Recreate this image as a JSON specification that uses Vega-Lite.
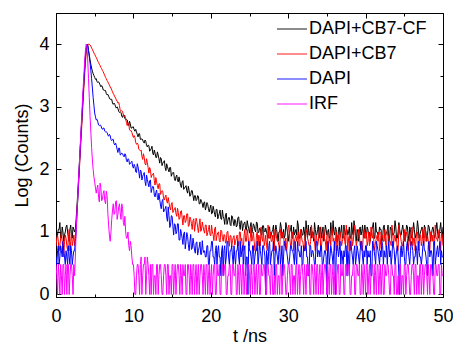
{
"$schema": "https://vega.github.io/schema/vega-lite/v6.json",
"width": 387,
"height": 284,
"autosize": {"type": "none"},
"padding": {"left": 56, "top": 13, "right": 10, "bottom": 48},
"background": "white",
"config": {
  "view": {"stroke": "black", "strokeWidth": 1},
  "font": "Liberation Sans",
  "axis": {"labelFont": "Liberation Sans", "labelFontSize": 18, "titleFont": "Liberation Sans", "titleFontSize": 18, "titleFontWeight": "normal", "labelColor": "black", "titleColor": "black", "tickColor": "black", "domainColor": "black", "grid": false, "labelFlush": false, "labelOverlap": false, "labelBound": false}
},
"data": {"values": [
{"t":0,"a":1.11,"b":0.78,"c":0.6,"d":0.48},
{"t":0.1,"a":0.95,"b":0.9,"c":0.48,"d":0.3},
{"t":0.2,"a":0.95,"b":0.95,"c":0.7,"d":0},
{"t":0.3,"a":1.04,"b":0.85,"c":0.78,"d":0.48},
{"t":0.4,"a":1.04,"b":0.7,"c":0.48,"d":0.3},
{"t":0.5,"a":1.15,"b":0.78,"c":0.6,"d":0},
{"t":0.6,"a":0.9,"b":0.9,"c":0.78,"d":0.48},
{"t":0.7,"a":0.9,"b":1.0,"c":0.7,"d":0.3},
{"t":0.8,"a":1.08,"b":0.85,"c":0.6,"d":0},
{"t":0.9,"a":1.0,"b":0.7,"c":0.85,"d":0.48},
{"t":1,"a":0.85,"b":0.6,"c":0.7,"d":0.48},
{"t":1.1,"a":0.95,"b":0.85,"c":0.6,"d":0},
{"t":1.2,"a":1.0,"b":0.95,"c":0.48,"d":0.3},
{"t":1.3,"a":1.08,"b":0.9,"c":0.7,"d":0.48},
{"t":1.4,"a":1.11,"b":0.78,"c":0.6,"d":0},
{"t":1.5,"a":1.0,"b":0.7,"c":0.48,"d":0.48},
{"t":1.6,"a":0.9,"b":0.9,"c":0.78,"d":0.48},
{"t":1.7,"a":0.85,"b":1.04,"c":0.6,"d":0},
{"t":1.8,"a":1.04,"b":0.7,"c":0.48,"d":0.3},
{"t":1.9,"a":1.11,"b":0.85,"c":0.78,"d":0.48},
{"t":2,"a":0.95,"b":1.0,"c":0.7,"d":0.48},
{"t":2.1,"a":0.9,"b":0.78,"c":0.48,"d":0.3},
{"t":2.2,"a":1.08,"b":0.85,"c":0.6,"d":0},
{"t":2.3,"a":1.04,"b":0.95,"c":0.7,"d":0.48},
{"t":2.4,"a":1.0,"b":0.78,"c":0.7,"d":0.3},
{"t":2.5,"a":1.05,"b":0.95,"c":0.85,"d":0.6},
{"t":2.6,"a":1.2,"b":1.1,"c":1.0,"d":1.0},
{"t":2.7,"a":1.4,"b":1.3,"c":1.25,"d":1.3},
{"t":2.8,"a":1.6,"b":1.5,"c":1.5,"d":1.55},
{"t":2.9,"a":1.82,"b":1.72,"c":1.75,"d":1.8},
{"t":3,"a":2.05,"b":1.95,"c":2.0,"d":2.05},
{"t":3.1,"a":2.27,"b":2.17,"c":2.25,"d":2.3},
{"t":3.2,"a":2.5,"b":2.4,"c":2.5,"d":2.55},
{"t":3.3,"a":2.72,"b":2.62,"c":2.72,"d":2.8},
{"t":3.4,"a":2.95,"b":2.85,"c":2.95,"d":3.05},
{"t":3.5,"a":3.18,"b":3.08,"c":3.18,"d":3.28},
{"t":3.6,"a":3.4,"b":3.3,"c":3.4,"d":3.5},
{"t":3.7,"a":3.6,"b":3.5,"c":3.6,"d":3.72},
{"t":3.8,"a":3.8,"b":3.7,"c":3.8,"d":3.9},
{"t":3.9,"a":3.92,"b":3.85,"c":3.93,"d":4.0},
{"t":4,"a":3.98,"b":3.95,"c":4.0,"d":3.97},
{"t":4.1,"a":4.0,"b":3.99,"c":3.97,"d":3.75},
{"t":4.2,"a":3.9,"b":4.0,"c":3.9,"d":3.45},
{"t":4.3,"a":3.83,"b":4.0,"c":3.8,"d":3.15},
{"t":4.4,"a":3.75,"b":3.99,"c":3.7,"d":2.85},
{"t":4.5,"a":3.68,"b":3.97,"c":3.58,"d":2.6},
{"t":4.6,"a":3.62,"b":3.94,"c":3.45,"d":2.35},
{"t":4.7,"a":3.57,"b":3.92,"c":3.3,"d":2.15},
{"t":4.8,"a":3.53,"b":3.89,"c":3.15,"d":2.0},
{"t":4.9,"a":3.5,"b":3.86,"c":3.02,"d":1.88},
{"t":5,"a":3.47,"b":3.84,"c":2.9,"d":1.8},
{"t":5.1,"a":3.44,"b":3.81,"c":2.84,"d":1.7},
{"t":5.2,"a":3.45,"b":3.79,"c":2.79,"d":1.62},
{"t":5.3,"a":3.40,"b":3.76,"c":2.80,"d":1.7},
{"t":5.4,"a":3.39,"b":3.73,"c":2.76,"d":1.75},
{"t":5.5,"a":3.40,"b":3.71,"c":2.71,"d":1.55},
{"t":5.6,"a":3.38,"b":3.68,"c":2.70,"d":1.48},
{"t":5.7,"a":3.35,"b":3.66,"c":2.71,"d":1.78},
{"t":5.8,"a":3.32,"b":3.63,"c":2.70,"d":1.7},
{"t":5.9,"a":3.34,"b":3.61,"c":2.66,"d":1.5},
{"t":6,"a":3.32,"b":3.58,"c":2.64,"d":1.52},
{"t":6.1,"a":3.27,"b":3.56,"c":2.66,"d":1.62},
{"t":6.2,"a":3.27,"b":3.53,"c":2.66,"d":1.66},
{"t":6.3,"a":3.26,"b":3.50,"c":2.61,"d":1.5},
{"t":6.4,"a":3.26,"b":3.47,"c":2.60,"d":1.45},
{"t":6.5,"a":3.21,"b":3.45,"c":2.60,"d":1.65},
{"t":6.6,"a":3.19,"b":3.42,"c":2.59,"d":1.58},
{"t":6.7,"a":3.20,"b":3.40,"c":2.55,"d":1.3},
{"t":6.8,"a":3.17,"b":3.37,"c":2.53,"d":1.1},
{"t":6.9,"a":3.14,"b":3.35,"c":2.56,"d":0.95},
{"t":7,"a":3.12,"b":3.32,"c":2.54,"d":0.85},
{"t":7.1,"a":3.12,"b":3.30,"c":2.48,"d":1.0},
{"t":7.2,"a":3.12,"b":3.27,"c":2.46,"d":1.2},
{"t":7.3,"a":3.06,"b":3.24,"c":2.48,"d":1.35},
{"t":7.4,"a":3.04,"b":3.21,"c":2.48,"d":1.45},
{"t":7.5,"a":3.06,"b":3.19,"c":2.41,"d":1.28},
{"t":7.6,"a":3.04,"b":3.16,"c":2.39,"d":1.3},
{"t":7.7,"a":3.00,"b":3.14,"c":2.42,"d":1.48},
{"t":7.8,"a":2.98,"b":3.11,"c":2.38,"d":1.5},
{"t":7.9,"a":3.00,"b":3.09,"c":2.32,"d":1.2},
{"t":8,"a":2.97,"b":3.06,"c":2.27,"d":1.28},
{"t":8.1,"a":2.93,"b":3.07,"c":2.34,"d":1.4},
{"t":8.2,"a":2.91,"b":3.02,"c":2.34,"d":1.45},
{"t":8.3,"a":2.92,"b":2.94,"c":2.23,"d":1.3},
{"t":8.4,"a":2.91,"b":2.93,"c":2.24,"d":1.2},
{"t":8.5,"a":2.85,"b":2.94,"c":2.26,"d":1.45},
{"t":8.6,"a":2.83,"b":2.93,"c":2.25,"d":1.38},
{"t":8.7,"a":2.87,"b":2.87,"c":2.22,"d":1.15},
{"t":8.8,"a":2.87,"b":2.84,"c":2.20,"d":1.1},
{"t":8.9,"a":2.81,"b":2.86,"c":2.25,"d":1.25},
{"t":9,"a":2.80,"b":2.81,"c":2.23,"d":1.0},
{"t":9.1,"a":2.80,"b":2.75,"c":2.14,"d":0.9},
{"t":9.2,"a":2.79,"b":2.70,"c":2.12,"d":0.9},
{"t":9.3,"a":2.73,"b":2.74,"c":2.17,"d":1.0},
{"t":9.4,"a":2.70,"b":2.73,"c":2.16,"d":0.78},
{"t":9.5,"a":2.77,"b":2.63,"c":2.08,"d":0.7},
{"t":9.6,"a":2.73,"b":2.62,"c":2.10,"d":0.85},
{"t":9.7,"a":2.66,"b":2.62,"c":2.11,"d":0.78},
{"t":9.8,"a":2.66,"b":2.59,"c":2.13,"d":0.6},
{"t":9.9,"a":2.68,"b":2.55,"c":2.05,"d":0.48},
{"t":10,"a":2.68,"b":2.51,"c":2.02,"d":0.48},
{"t":10.1,"a":2.63,"b":2.54,"c":2.08,"d":0.3},
{"t":10.2,"a":2.61,"b":2.51,"c":2.05,"d":0},
{"t":10.3,"a":2.64,"b":2.43,"c":1.96,"d":0},
{"t":10.4,"a":2.60,"b":2.40,"c":1.95,"d":0.3},
{"t":10.5,"a":2.56,"b":2.42,"c":2.09,"d":0.48},
{"t":10.6,"a":2.52,"b":2.40,"c":2.04,"d":0.48},
{"t":10.7,"a":2.57,"b":2.32,"c":1.96,"d":0.3},
{"t":10.8,"a":2.57,"b":2.31,"c":1.86,"d":0},
{"t":10.9,"a":2.48,"b":2.30,"c":1.99,"d":0.48},
{"t":11,"a":2.48,"b":2.31,"c":1.97,"d":0.6},
{"t":11.1,"a":2.49,"b":2.21,"c":1.83,"d":0},
{"t":11.2,"a":2.47,"b":2.16,"c":1.89,"d":0.3},
{"t":11.3,"a":2.44,"b":2.25,"c":1.92,"d":0.48},
{"t":11.4,"a":2.42,"b":2.19,"c":1.95,"d":0.48},
{"t":11.5,"a":2.47,"b":2.09,"c":1.81,"d":0.6},
{"t":11.6,"a":2.45,"b":2.07,"c":1.74,"d":0},
{"t":11.7,"a":2.38,"b":2.17,"c":1.91,"d":0.3},
{"t":11.8,"a":2.36,"b":2.11,"c":1.84,"d":0.6},
{"t":11.9,"a":2.39,"b":2.03,"c":1.78,"d":0.48},
{"t":12,"a":2.38,"b":1.94,"c":1.72,"d":0.3},
{"t":12.1,"a":2.29,"b":2.03,"c":1.82,"d":0},
{"t":12.2,"a":2.31,"b":2.00,"c":1.83,"d":0.48},
{"t":12.3,"a":2.33,"b":1.87,"c":1.63,"d":0},
{"t":12.4,"a":2.37,"b":1.91,"c":1.69,"d":0.48},
{"t":12.5,"a":2.26,"b":1.92,"c":1.73,"d":0.48},
{"t":12.6,"a":2.23,"b":1.94,"c":1.72,"d":0},
{"t":12.7,"a":2.31,"b":1.82,"c":1.59,"d":0.3},
{"t":12.8,"a":2.26,"b":1.75,"c":1.56,"d":0.3},
{"t":12.9,"a":2.19,"b":1.87,"c":1.63,"d":0},
{"t":13,"a":2.19,"b":1.80,"c":1.67,"d":0.48},
{"t":13.1,"a":2.28,"b":1.74,"c":1.55,"d":0.48},
{"t":13.2,"a":2.23,"b":1.69,"c":1.51,"d":0},
{"t":13.3,"a":2.17,"b":1.77,"c":1.62,"d":0.3},
{"t":13.4,"a":2.10,"b":1.77,"c":1.52,"d":0.48},
{"t":13.5,"a":2.19,"b":1.60,"c":1.43,"d":0.48},
{"t":13.6,"a":2.17,"b":1.63,"c":1.37,"d":0.3},
{"t":13.7,"a":2.06,"b":1.66,"c":1.49,"d":0},
{"t":13.8,"a":2.10,"b":1.65,"c":1.52,"d":0},
{"t":13.9,"a":2.12,"b":1.53,"c":1.32,"d":0.3},
{"t":14,"a":2.14,"b":1.51,"c":1.34,"d":0.48},
{"t":14.1,"a":2.03,"b":1.56,"c":1.37,"d":0.48},
{"t":14.2,"a":1.98,"b":1.59,"c":1.41,"d":0.3},
{"t":14.3,"a":2.09,"b":1.49,"c":1.24,"d":0},
{"t":14.4,"a":2.04,"b":1.46,"c":1.17,"d":0.48},
{"t":14.5,"a":2.00,"b":1.55,"c":1.40,"d":0.48},
{"t":14.6,"a":1.96,"b":1.47,"c":1.26,"d":0},
{"t":14.7,"a":2.03,"b":1.39,"c":1.07,"d":0.3},
{"t":14.8,"a":2.03,"b":1.35,"c":1.11,"d":0.3},
{"t":14.9,"a":1.89,"b":1.45,"c":1.26,"d":0},
{"t":15,"a":1.93,"b":1.47,"c":1.25,"d":0.48},
{"t":15.1,"a":1.95,"b":1.31,"c":1.10,"d":0.48},
{"t":15.2,"a":1.95,"b":1.34,"c":0.95,"d":0},
{"t":15.3,"a":1.85,"b":1.37,"c":1.13,"d":0.3},
{"t":15.4,"a":1.82,"b":1.39,"c":1.12,"d":0.48},
{"t":15.5,"a":1.88,"b":1.29,"c":0.97,"d":0},
{"t":15.6,"a":1.91,"b":1.25,"c":1.00,"d":0.3},
{"t":15.7,"a":1.82,"b":1.38,"c":1.13,"d":0.48},
{"t":15.8,"a":1.80,"b":1.31,"c":1.13,"d":0.48},
{"t":15.9,"a":1.88,"b":1.20,"c":0.87,"d":0.3},
{"t":16,"a":1.81,"b":1.22,"c":0.87,"d":0},
{"t":16.1,"a":1.74,"b":1.33,"c":1.04,"d":0.48},
{"t":16.2,"a":1.71,"b":1.34,"c":0.98,"d":0.3},
{"t":16.3,"a":1.80,"b":1.22,"c":0.90,"d":0},
{"t":16.4,"a":1.82,"b":1.11,"c":0.80,"d":0.48},
{"t":16.5,"a":1.68,"b":1.26,"c":0.97,"d":0.3},
{"t":16.6,"a":1.70,"b":1.26,"c":1.00,"d":0.3},
{"t":16.7,"a":1.72,"b":1.15,"c":0.73,"d":0.48},
{"t":16.8,"a":1.74,"b":1.18,"c":0.85,"d":0},
{"t":16.9,"a":1.66,"b":1.29,"c":0.99,"d":0},
{"t":17,"a":1.62,"b":1.29,"c":0.93,"d":0.48},
{"t":17.1,"a":1.73,"b":1.09,"c":0.80,"d":0.48},
{"t":17.2,"a":1.66,"b":1.10,"c":0.70,"d":0.3},
{"t":17.3,"a":1.57,"b":1.24,"c":0.84,"d":0},
{"t":17.4,"a":1.59,"b":1.20,"c":0.96,"d":0.48},
{"t":17.5,"a":1.66,"b":1.13,"c":0.72,"d":0.3},
{"t":17.6,"a":1.66,"b":1.04,"c":0.74,"d":0},
{"t":17.7,"a":1.58,"b":1.18,"c":0.90,"d":0.48},
{"t":17.8,"a":1.50,"b":1.21,"c":0.81,"d":0.48},
{"t":17.9,"a":1.58,"b":1.01,"c":0.71,"d":0},
{"t":18,"a":1.58,"b":1.11,"c":0.66,"d":0.3},
{"t":18.1,"a":1.50,"b":1.22,"c":0.83,"d":0.48},
{"t":18.2,"a":1.52,"b":1.17,"c":0.84,"d":0},
{"t":18.3,"a":1.58,"b":1.07,"c":0.63,"d":0.3},
{"t":18.4,"a":1.57,"b":0.99,"c":0.70,"d":0.48},
{"t":18.5,"a":1.45,"b":1.11,"c":0.76,"d":0},
{"t":18.6,"a":1.45,"b":1.21,"c":0.84,"d":0.3},
{"t":18.7,"a":1.52,"b":1.01,"c":0.64,"d":0.48},
{"t":18.8,"a":1.49,"b":1.03,"c":0.64,"d":0.48},
{"t":18.9,"a":1.45,"b":1.16,"c":0.86,"d":0.3},
{"t":19,"a":1.39,"b":1.09,"c":0.72,"d":0},
{"t":19.1,"a":1.47,"b":1.02,"c":0.67,"d":0.48},
{"t":19.2,"a":1.48,"b":0.98,"c":0.7,"d":0.3},
{"t":19.3,"a":1.35,"b":1.11,"c":0.6,"d":0},
{"t":19.4,"a":1.40,"b":1.11,"c":0.6,"d":0.48},
{"t":19.5,"a":1.47,"b":0.94,"c":0.78,"d":0.48},
{"t":19.6,"a":1.44,"b":0.99,"c":0.78,"d":0},
{"t":19.7,"a":1.37,"b":1.04,"c":0.48,"d":0.3},
{"t":19.8,"a":1.32,"b":1.11,"c":0.48,"d":0.48},
{"t":19.9,"a":1.38,"b":0.95,"c":0.7,"d":0},
{"t":20,"a":1.43,"b":0.94,"c":0.7,"d":0.3},
{"t":20.1,"a":1.29,"b":1.11,"c":0.85,"d":0.48},
{"t":20.2,"a":1.30,"b":1.00,"c":0.85,"d":0},
{"t":20.3,"a":1.41,"b":0.96,"c":0.6,"d":0.3},
{"t":20.4,"a":1.35,"b":0.86,"c":0.6,"d":0.48},
{"t":20.5,"a":1.28,"b":1.05,"c":0.48,"d":0.48},
{"t":20.6,"a":1.24,"b":1.08,"c":0.7,"d":0},
{"t":20.7,"a":1.36,"b":0.86,"c":0.78,"d":0},
{"t":20.8,"a":1.36,"b":0.94,"c":0.48,"d":0.48},
{"t":20.9,"a":1.21,"b":0.99,"c":0.7,"d":0.3},
{"t":21,"a":1.25,"b":1.00,"c":0.78,"d":0.3},
{"t":21.1,"a":1.30,"b":0.86,"c":0.6,"d":0.48},
{"t":21.2,"a":1.35,"b":0.84,"c":0.6,"d":0},
{"t":21.3,"a":1.21,"b":1.03,"c":0.3,"d":0},
{"t":21.4,"a":1.20,"b":1.01,"c":0.7,"d":0.48},
{"t":21.5,"a":1.35,"b":0.91,"c":0.78,"d":0.48},
{"t":21.6,"a":1.25,"b":0.85,"c":0.3,"d":0.3},
{"t":21.7,"a":1.21,"b":0.96,"c":0.7,"d":0.3},
{"t":21.8,"a":1.12,"b":0.95,"c":0.78,"d":0.48},
{"t":21.9,"a":1.28,"b":0.82,"c":0.48,"d":0.48},
{"t":22,"a":1.30,"b":0.85,"c":0.6,"d":0},
{"t":22.1,"a":1.12,"b":1.00,"c":0.85,"d":0},
{"t":22.2,"a":1.18,"b":1.01,"c":0.85,"d":0.3},
{"t":22.3,"a":1.23,"b":0.86,"c":0.6,"d":0.3},
{"t":22.4,"a":1.23,"b":0.77,"c":0.48,"d":0.48},
{"t":22.5,"a":1.12,"b":0.94,"c":0.7,"d":0.48},
{"t":22.6,"a":1.10,"b":0.94,"c":0.7,"d":0},
{"t":22.7,"a":1.26,"b":0.76,"c":0.78,"d":0},
{"t":22.8,"a":1.24,"b":0.86,"c":0.6,"d":0.48},
{"t":22.9,"a":1.16,"b":0.91,"c":0.48,"d":0.48},
{"t":23,"a":1.10,"b":0.94,"c":0.78,"d":0.3},
{"t":23.1,"a":1.20,"b":0.79,"c":0.6,"d":0.3},
{"t":23.2,"a":1.18,"b":0.85,"c":0.48,"d":0.48},
{"t":23.3,"a":1.08,"b":0.9,"c":0.7,"d":0},
{"t":23.4,"a":1.10,"b":0.95,"c":0.7,"d":0},
{"t":23.5,"a":1.23,"b":0.78,"c":0.85,"d":0.48},
{"t":23.6,"a":1.24,"b":0.78,"c":0.6,"d":0.3},
{"t":23.7,"a":1.12,"b":1.0,"c":0.48,"d":0},
{"t":23.8,"a":1.04,"b":1.0,"c":0.85,"d":0.48},
{"t":23.9,"a":1.18,"b":0.85,"c":0.6,"d":0.3},
{"t":24,"a":1.17,"b":0.9,"c":0.7,"d":0},
{"t":24.1,"a":1.02,"b":0.7,"c":0.78,"d":0.48},
{"t":24.2,"a":1.10,"b":0.7,"c":0.48,"d":0.48},
{"t":24.3,"a":1.14,"b":0.95,"c":0.7,"d":0},
{"t":24.4,"a":1.16,"b":1.04,"c":0.78,"d":0.3},
{"t":24.5,"a":1.04,"b":0.85,"c":0.3,"d":0.48},
{"t":24.6,"a":1.03,"b":0.85,"c":0.6,"d":0},
{"t":24.7,"a":1.18,"b":1.04,"c":0.6,"d":0.3},
{"t":24.8,"a":1.11,"b":0.95,"c":0,"d":0.48},
{"t":24.9,"a":1.05,"b":0.78,"c":0.85,"d":0.48},
{"t":25,"a":0.98,"b":0.78,"c":0.7,"d":0.3},
{"t":25.1,"a":1.09,"b":0.9,"c":0.7,"d":0},
{"t":25.2,"a":1.15,"b":1.08,"c":0.6,"d":0.48},
{"t":25.3,"a":0.98,"b":0.85,"c":0.48,"d":0.3},
{"t":25.4,"a":1.04,"b":0.9,"c":0.78,"d":0},
{"t":25.5,"a":1.13,"b":1.0,"c":0.78,"d":0.48},
{"t":25.6,"a":1.10,"b":0.85,"c":0.48,"d":0.48},
{"t":25.7,"a":1.03,"b":0.7,"c":0.6,"d":0},
{"t":25.8,"a":1.00,"b":0.7,"c":0.7,"d":0.3},
{"t":25.9,"a":1.16,"b":0.95,"c":0.7,"d":0.48},
{"t":26,"a":1.14,"b":1.0,"c":0.85,"d":0},
{"t":26.1,"a":1.00,"b":0.78,"c":0.48,"d":0.3},
{"t":26.2,"a":0.99,"b":0.95,"c":0.6,"d":0.48},
{"t":26.3,"a":1.06,"b":0.9,"c":0.85,"d":0},
{"t":26.4,"a":1.05,"b":0.78,"c":0.7,"d":0},
{"t":26.5,"a":0.96,"b":1.08,"c":0.6,"d":0.48},
{"t":26.6,"a":0.95,"b":0.9,"c":0.48,"d":0.3},
{"t":26.7,"a":1.10,"b":0.85,"c":0.78,"d":0.3},
{"t":26.8,"a":1.10,"b":1.04,"c":0.78,"d":0.48},
{"t":26.9,"a":1.02,"b":0.78,"c":0.7,"d":0.48},
{"t":27,"a":1.00,"b":0.85,"c":0.6,"d":0.3},
{"t":27.1,"a":1.06,"b":0.95,"c":0,"d":0},
{"t":27.2,"a":1.0,"b":0.78,"c":0.7,"d":0},
{"t":27.3,"a":0.95,"b":0.7,"c":0.6,"d":0.48},
{"t":27.4,"a":0.9,"b":1.11,"c":0.48,"d":0.48},
{"t":27.5,"a":1.08,"b":0.9,"c":0.78,"d":0.3},
{"t":27.6,"a":1.08,"b":0.9,"c":0.85,"d":0.3},
{"t":27.7,"a":0.9,"b":1.0,"c":0.48,"d":0},
{"t":27.8,"a":0.95,"b":0.85,"c":0.6,"d":0.48},
{"t":27.9,"a":1.0,"b":0.85,"c":0.7,"d":0.48},
{"t":28,"a":1.04,"b":0.95,"c":0.7,"d":0},
{"t":28.1,"a":1.11,"b":0.78,"c":0.85,"d":0},
{"t":28.2,"a":0.85,"b":0.7,"c":0.3,"d":0.3},
{"t":28.3,"a":0.95,"b":1.04,"c":0.6,"d":0},
{"t":28.4,"a":1.11,"b":1.0,"c":0.78,"d":0.48},
{"t":28.5,"a":1.04,"b":0.9,"c":0.7,"d":0.48},
{"t":28.6,"a":0.95,"b":0.85,"c":0.6,"d":0},
{"t":28.7,"a":0.85,"b":0.85,"c":0.48,"d":0.3},
{"t":28.8,"a":1.0,"b":0.78,"c":0.7,"d":0.3},
{"t":28.9,"a":1.0,"b":0.7,"c":0.78,"d":0},
{"t":29,"a":1.15,"b":1.04,"c":0.48,"d":0.48},
{"t":29.1,"a":1.08,"b":0.95,"c":0.6,"d":0.48},
{"t":29.2,"a":0.9,"b":0.9,"c":0.78,"d":0},
{"t":29.3,"a":0.95,"b":1.0,"c":0.3,"d":0.3},
{"t":29.4,"a":1.04,"b":0.95,"c":0.6,"d":0.48},
{"t":29.5,"a":0.9,"b":0.78,"c":0.85,"d":0.48},
{"t":29.6,"a":0.95,"b":0.85,"c":0.85,"d":0.3},
{"t":29.7,"a":1.15,"b":0.9,"c":0.7,"d":0},
{"t":29.8,"a":1.08,"b":0.7,"c":0.7,"d":0},
{"t":29.9,"a":1.0,"b":0.85,"c":0.6,"d":0.3},
{"t":30,"a":0.85,"b":1.08,"c":0.48,"d":0.48},
{"t":30.1,"a":0.95,"b":1.11,"c":0.48,"d":0.48},
{"t":30.2,"a":1.0,"b":0.9,"c":0.6,"d":0.3},
{"t":30.3,"a":1.04,"b":0.78,"c":0.78,"d":0},
{"t":30.4,"a":1.11,"b":0.78,"c":0.78,"d":0.48},
{"t":30.5,"a":0.9,"b":0.95,"c":0.7,"d":0.48},
{"t":30.6,"a":0.9,"b":1.0,"c":0.7,"d":0},
{"t":30.7,"a":1.08,"b":0.7,"c":0.6,"d":0.3},
{"t":30.8,"a":0.95,"b":0.85,"c":0.48,"d":0.3},
{"t":30.9,"a":1.0,"b":0.9,"c":0.85,"d":0},
{"t":31,"a":1.04,"b":0.95,"c":0.6,"d":0.48},
{"t":31.1,"a":0.95,"b":0.85,"c":0.48,"d":0.48},
{"t":31.2,"a":1.18,"b":0.9,"c":0.85,"d":0},
{"t":31.3,"a":1.11,"b":1.0,"c":0.7,"d":0.3},
{"t":31.4,"a":0.9,"b":0.78,"c":0.7,"d":0.48},
{"t":31.5,"a":0.9,"b":0.78,"c":0.6,"d":0},
{"t":31.6,"a":1.0,"b":1.04,"c":0.6,"d":0.3},
{"t":31.7,"a":1.04,"b":0.95,"c":0.78,"d":0.48},
{"t":31.8,"a":0.95,"b":0.85,"c":0.48,"d":0.48},
{"t":31.9,"a":0.95,"b":0.85,"c":0.48,"d":0.3},
{"t":32,"a":1.08,"b":0.7,"c":0.78,"d":0},
{"t":32.1,"a":1.0,"b":0.7,"c":0.7,"d":0.48},
{"t":32.2,"a":0.85,"b":0.95,"c":0.7,"d":0.3},
{"t":32.3,"a":1.18,"b":1.04,"c":0.85,"d":0},
{"t":32.4,"a":1.04,"b":1.0,"c":0.6,"d":0.48},
{"t":32.5,"a":0.9,"b":0.9,"c":0.6,"d":0.3},
{"t":32.6,"a":1.11,"b":0.85,"c":0.3,"d":0.3},
{"t":32.7,"a":0.95,"b":0.78,"c":0.3,"d":0.48},
{"t":32.8,"a":0.95,"b":0.78,"c":0.78,"d":0},
{"t":32.9,"a":1.08,"b":0.85,"c":0.78,"d":0},
{"t":33,"a":0.9,"b":1.11,"c":0.6,"d":0.48},
{"t":33.1,"a":1.0,"b":1.0,"c":0.7,"d":0.48},
{"t":33.2,"a":1.0,"b":0.9,"c":0.7,"d":0.3},
{"t":33.3,"a":0.85,"b":0.95,"c":0.6,"d":0},
{"t":33.4,"a":1.15,"b":0.85,"c":0.48,"d":0.48},
{"t":33.5,"a":1.04,"b":0.7,"c":0.48,"d":0.3},
{"t":33.6,"a":0.95,"b":0.95,"c":0.85,"d":0},
{"t":33.7,"a":0.95,"b":0.9,"c":0.85,"d":0.48},
{"t":33.8,"a":1.04,"b":0.78,"c":0.6,"d":0.48},
{"t":33.9,"a":1.11,"b":0.85,"c":0.7,"d":0},
{"t":34,"a":0.9,"b":1.0,"c":0.7,"d":0.3},
{"t":34.1,"a":1.0,"b":1.08,"c":0.6,"d":0.48},
{"t":34.2,"a":1.08,"b":0.7,"c":0.78,"d":0},
{"t":34.3,"a":0.9,"b":0.78,"c":0.78,"d":0.3},
{"t":34.4,"a":1.0,"b":0.9,"c":0.48,"d":0.48},
{"t":34.5,"a":1.08,"b":0.95,"c":0.48,"d":0},
{"t":34.6,"a":0.85,"b":1.04,"c":0.6,"d":0.3},
{"t":34.7,"a":0.95,"b":0.9,"c":0.7,"d":0.48},
{"t":34.8,"a":1.11,"b":0.85,"c":0.7,"d":0.48},
{"t":34.9,"a":1.04,"b":0.7,"c":0.6,"d":0.3},
{"t":35,"a":0.95,"b":0.95,"c":0,"d":0},
{"t":35.1,"a":1.0,"b":1.0,"c":0.85,"d":0.48},
{"t":35.2,"a":1.04,"b":0.78,"c":0.78,"d":0.3},
{"t":35.3,"a":0.9,"b":0.85,"c":0.48,"d":0},
{"t":35.4,"a":0.9,"b":0.9,"c":0.6,"d":0.48},
{"t":35.5,"a":1.15,"b":0.78,"c":0.78,"d":0.48},
{"t":35.6,"a":1.0,"b":1.08,"c":0.7,"d":0},
{"t":35.7,"a":0.95,"b":1.04,"c":0.6,"d":0.3},
{"t":35.8,"a":1.18,"b":0.85,"c":0.48,"d":0.48},
{"t":35.9,"a":1.0,"b":0.9,"c":0.7,"d":0},
{"t":36,"a":0.95,"b":0.7,"c":0.85,"d":0.3},
{"t":36.1,"a":1.08,"b":0.85,"c":0,"d":0.48},
{"t":36.2,"a":1.04,"b":1.0,"c":0.6,"d":0},
{"t":36.3,"a":0.85,"b":0.7,"c":0.78,"d":0.3},
{"t":36.4,"a":0.85,"b":0.95,"c":0.78,"d":0.48},
{"t":36.5,"a":1.04,"b":0.95,"c":0.6,"d":0.48},
{"t":36.6,"a":1.08,"b":0.78,"c":0.7,"d":0},
{"t":36.7,"a":0.95,"b":1.0,"c":0.85,"d":0},
{"t":36.8,"a":1.0,"b":0.9,"c":0.48,"d":0.48},
{"t":36.9,"a":1.11,"b":0.78,"c":0.7,"d":0.3},
{"t":37,"a":0.9,"b":0.85,"c":0.6,"d":0.3},
{"t":37.1,"a":0.9,"b":0.9,"c":0.48,"d":0.48},
{"t":37.2,"a":1.11,"b":1.04,"c":0.7,"d":0},
{"t":37.3,"a":1.0,"b":0.85,"c":0.6,"d":0},
{"t":37.4,"a":0.95,"b":0.78,"c":0.78,"d":0.48},
{"t":37.5,"a":1.04,"b":1.11,"c":0.78,"d":0.48},
{"t":37.6,"a":1.04,"b":0.95,"c":0.3,"d":0.3},
{"t":37.7,"a":0.95,"b":0.7,"c":0.7,"d":0.3},
{"t":37.8,"a":1.0,"b":0.9,"c":0.6,"d":0.48},
{"t":37.9,"a":1.08,"b":0.95,"c":0.3,"d":0.48},
{"t":38,"a":0.9,"b":0.7,"c":0.85,"d":0},
{"t":38.1,"a":0.9,"b":0.85,"c":0.85,"d":0},
{"t":38.2,"a":1.15,"b":1.0,"c":0.7,"d":0.3},
{"t":38.3,"a":1.0,"b":0.78,"c":0.6,"d":0.3},
{"t":38.4,"a":0.95,"b":0.85,"c":0.48,"d":0.48},
{"t":38.5,"a":1.18,"b":1.0,"c":0.7,"d":0.48},
{"t":38.6,"a":1.08,"b":1.11,"c":0.78,"d":0},
{"t":38.7,"a":0.95,"b":0.9,"c":0.48,"d":0},
{"t":38.8,"a":0.85,"b":0.78,"c":0.6,"d":0.48},
{"t":38.9,"a":1.04,"b":0.85,"c":0.78,"d":0.48},
{"t":39,"a":1.0,"b":0.9,"c":0.7,"d":0.3},
{"t":39.1,"a":0.85,"b":1.04,"c":0.6,"d":0.3},
{"t":39.2,"a":1.04,"b":0.95,"c":0.48,"d":0.48},
{"t":39.3,"a":1.08,"b":0.78,"c":0.7,"d":0},
{"t":39.4,"a":0.95,"b":0.85,"c":0.85,"d":0},
{"t":39.5,"a":1.0,"b":0.7,"c":0.85,"d":0.48},
{"t":39.6,"a":1.11,"b":0.7,"c":0.6,"d":0.3},
{"t":39.7,"a":0.95,"b":0.95,"c":0.48,"d":0},
{"t":39.8,"a":0.9,"b":1.04,"c":0.7,"d":0.48},
{"t":39.9,"a":1.11,"b":0.9,"c":0.6,"d":0.3},
{"t":40,"a":1.0,"b":0.9,"c":0.78,"d":0},
{"t":40.1,"a":0.9,"b":1.0,"c":0.78,"d":0.48},
{"t":40.2,"a":1.08,"b":0.78,"c":0.48,"d":0.48},
{"t":40.3,"a":1.04,"b":0.85,"c":0.7,"d":0},
{"t":40.4,"a":0.95,"b":1.0,"c":0.6,"d":0.3},
{"t":40.5,"a":1.0,"b":0.78,"c":0.6,"d":0.48},
{"t":40.6,"a":0.85,"b":0.85,"c":0.7,"d":0},
{"t":40.7,"a":0.95,"b":1.08,"c":0.3,"d":0.3},
{"t":40.8,"a":1.04,"b":0.95,"c":0.3,"d":0.48},
{"t":40.9,"a":1.08,"b":0.9,"c":0.85,"d":0.48},
{"t":41,"a":1.15,"b":1.08,"c":0.78,"d":0.3},
{"t":41.1,"a":0.9,"b":0.7,"c":0.7,"d":0},
{"t":41.2,"a":0.9,"b":0.78,"c":0.6,"d":0.48},
{"t":41.3,"a":1.15,"b":0.85,"c":0.48,"d":0.3},
{"t":41.4,"a":1.0,"b":0.9,"c":0.85,"d":0},
{"t":41.5,"a":1.0,"b":0.95,"c":0.78,"d":0.48},
{"t":41.6,"a":0.95,"b":0.85,"c":0.7,"d":0.48},
{"t":41.7,"a":0.95,"b":1.0,"c":0.6,"d":0},
{"t":41.8,"a":1.08,"b":0.7,"c":0.48,"d":0.3},
{"t":41.9,"a":1.04,"b":0.78,"c":0.7,"d":0.48},
{"t":42,"a":1.04,"b":1.0,"c":0.6,"d":0},
{"t":42.1,"a":0.85,"b":0.9,"c":0.85,"d":0.3},
{"t":42.2,"a":0.9,"b":0.95,"c":0.78,"d":0.48},
{"t":42.3,"a":1.08,"b":0.85,"c":0.48,"d":0},
{"t":42.4,"a":1.11,"b":0.85,"c":0.7,"d":0},
{"t":42.5,"a":0.95,"b":1.04,"c":0.6,"d":0.48},
{"t":42.6,"a":0.95,"b":0.78,"c":0.6,"d":0.3},
{"t":42.7,"a":1.0,"b":0.7,"c":0.78,"d":0.3},
{"t":42.8,"a":1.0,"b":1.04,"c":0.48,"d":0.48},
{"t":42.9,"a":1.11,"b":0.95,"c":0.7,"d":0.48},
{"t":43,"a":0.85,"b":0.9,"c":0.85,"d":0.3},
{"t":43.1,"a":0.9,"b":0.85,"c":0.6,"d":0},
{"t":43.2,"a":1.08,"b":0.85,"c":0.7,"d":0},
{"t":43.3,"a":1.04,"b":0.78,"c":0.48,"d":0.48},
{"t":43.4,"a":1.04,"b":1.11,"c":0.6,"d":0.48},
{"t":43.5,"a":0.95,"b":1.0,"c":0.85,"d":0.3},
{"t":43.6,"a":0.95,"b":0.78,"c":0.78,"d":0.3},
{"t":43.7,"a":1.0,"b":0.9,"c":0.7,"d":0},
{"t":43.8,"a":1.18,"b":0.95,"c":0.48,"d":0.48},
{"t":43.9,"a":1.08,"b":0.85,"c":0.6,"d":0.48},
{"t":44,"a":0.9,"b":0.9,"c":0.7,"d":0},
{"t":44.1,"a":0.9,"b":0.7,"c":0.78,"d":0},
{"t":44.2,"a":1.0,"b":0.7,"c":0.6,"d":0.3},
{"t":44.3,"a":1.15,"b":1.11,"c":0.3,"d":0},
{"t":44.4,"a":1.04,"b":1.0,"c":0,"d":0.48},
{"t":44.5,"a":0.95,"b":0.95,"c":0.7,"d":0.48},
{"t":44.6,"a":0.95,"b":0.85,"c":0.78,"d":0},
{"t":44.7,"a":1.04,"b":0.78,"c":0.6,"d":0.3},
{"t":44.8,"a":1.11,"b":0.78,"c":0.7,"d":0.3},
{"t":44.9,"a":1.0,"b":0.9,"c":0.85,"d":0},
{"t":45,"a":0.9,"b":1.04,"c":0.6,"d":0.48},
{"t":45.1,"a":0.85,"b":0.85,"c":0.48,"d":0.48},
{"t":45.2,"a":1.0,"b":0.95,"c":0.48,"d":0},
{"t":45.3,"a":1.11,"b":1.0,"c":0.78,"d":0.3},
{"t":45.4,"a":1.08,"b":0.9,"c":0.85,"d":0.48},
{"t":45.5,"a":0.95,"b":0.7,"c":0.7,"d":0.48},
{"t":45.6,"a":0.85,"b":0.85,"c":0.6,"d":0.3},
{"t":45.7,"a":1.08,"b":0.95,"c":0.48,"d":0},
{"t":45.8,"a":1.04,"b":0.78,"c":0.7,"d":0},
{"t":45.9,"a":0.9,"b":1.04,"c":0.85,"d":0.3},
{"t":46,"a":0.95,"b":1.08,"c":0.78,"d":0.48},
{"t":46.1,"a":1.0,"b":0.78,"c":0.7,"d":0.48},
{"t":46.2,"a":1.15,"b":0.9,"c":0.48,"d":0.3},
{"t":46.3,"a":1.04,"b":0.9,"c":0.6,"d":0},
{"t":46.4,"a":0.9,"b":0.7,"c":0.6,"d":0.48},
{"t":46.5,"a":0.95,"b":0.85,"c":0.78,"d":0.48},
{"t":46.6,"a":1.0,"b":1.0,"c":0.7,"d":0},
{"t":46.7,"a":1.18,"b":1.0,"c":0.48,"d":0.3},
{"t":46.8,"a":1.08,"b":0.85,"c":0.85,"d":0.3},
{"t":46.9,"a":0.9,"b":0.7,"c":0.7,"d":0},
{"t":47,"a":0.95,"b":0.95,"c":0.6,"d":0.48},
{"t":47.1,"a":1.0,"b":0.95,"c":0.6,"d":0.48},
{"t":47.2,"a":1.04,"b":0.78,"c":0.48,"d":0},
{"t":47.3,"a":1.08,"b":0.85,"c":0.6,"d":0.3},
{"t":47.4,"a":0.9,"b":1.04,"c":0.78,"d":0.48},
{"t":47.5,"a":0.95,"b":0.78,"c":0.85,"d":0},
{"t":47.6,"a":1.11,"b":0.9,"c":0.7,"d":0.3},
{"t":47.7,"a":1.04,"b":1.08,"c":0.7,"d":0.48},
{"t":47.8,"a":1.0,"b":0.85,"c":0.6,"d":0.48},
{"t":47.9,"a":0.85,"b":0.9,"c":0.48,"d":0.3},
{"t":48,"a":0.95,"b":0.95,"c":0.3,"d":0},
{"t":48.1,"a":1.11,"b":0.85,"c":0.78,"d":0.48},
{"t":48.2,"a":1.08,"b":0.7,"c":0.85,"d":0.3},
{"t":48.3,"a":1.0,"b":0.7,"c":0.6,"d":0},
{"t":48.4,"a":0.85,"b":1.0,"c":0.7,"d":0.48},
{"t":48.5,"a":0.95,"b":1.0,"c":0.7,"d":0.48},
{"t":48.6,"a":1.04,"b":0.85,"c":0.6,"d":0.3},
{"t":48.7,"a":1.08,"b":0.95,"c":0.3,"d":0.3},
{"t":48.8,"a":1.0,"b":0.78,"c":0.78,"d":0},
{"t":48.9,"a":0.9,"b":0.78,"c":0.85,"d":0},
{"t":49,"a":0.95,"b":1.11,"c":0.48,"d":0.48},
{"t":49.1,"a":1.04,"b":0.9,"c":0.6,"d":0.48},
{"t":49.2,"a":1.15,"b":0.9,"c":0.7,"d":0.3},
{"t":49.3,"a":1.0,"b":0.85,"c":0.78,"d":0.3},
{"t":49.4,"a":0.9,"b":0.95,"c":0.6,"d":0.48},
{"t":49.5,"a":0.95,"b":1.04,"c":0.7,"d":0.48},
{"t":49.6,"a":1.04,"b":0.85,"c":0.85,"d":0},
{"t":49.7,"a":1.15,"b":0.7,"c":0.48,"d":0},
{"t":49.8,"a":1.0,"b":1.0,"c":0.7,"d":0.48},
{"t":49.9,"a":0.9,"b":0.95,"c":0.6,"d":0.3},
{"t":50,"a":1.08,"b":0.78,"c":0.6,"d":0.3}
]},
"layer": [
  {
    "transform": [
      {"fold": ["a", "b", "c", "d"], "as": ["k", "v"]},
      {"lookup": "k", "from": {"data": {"values": [
        {"k": "a", "series": "DAPI+CB7-CF"},
        {"k": "b", "series": "DAPI+CB7"},
        {"k": "c", "series": "DAPI"},
        {"k": "d", "series": "IRF"}]}, "key": "k", "fields": ["series"]}}
    ],
    "mark": {"type": "line", "strokeWidth": 1, "clip": true, "interpolate": "linear"},
    "encoding": {
      "x": {"field": "t", "type": "quantitative", "scale": {"domain": [0, 50], "nice": false, "zero": false},
        "axis": {"title": "t /ns", "values": [0,5,10,15,20,25,30,35,40,45,50], "labelExpr": "datum.value % 10 === 0 ? datum.label : ''",
          "tickSize": {"condition": {"test": "datum.value % 10 !== 0", "value": -3}, "value": -5},
          "labelPadding": 15, "titlePadding": 0, "domain": true}},
      "y": {"field": "v", "type": "quantitative", "scale": {"domain": [-0.04, 4.5], "nice": false, "zero": false},
        "axis": {"title": "Log (Counts)", "values": [0,0.5,1,1.5,2,2.5,3,3.5,4], "labelExpr": "datum.value % 1 === 0 ? format(datum.value, 'd') : ''",
          "tickSize": {"condition": {"test": "datum.value % 1 !== 0", "value": -3}, "value": -5},
          "labelPadding": 12, "titlePadding": 7, "domain": true}},
      "color": {"field": "series", "type": "nominal",
        "scale": {"domain": ["DAPI+CB7-CF", "DAPI+CB7", "DAPI", "IRF"], "range": ["#000000", "#ff0000", "#0000ff", "#ff00ff"]},
        "legend": {"title": null, "orient": "none", "legendX": 220, "legendY": 0, "symbolType": "stroke", "symbolSize": 900,
          "symbolStrokeWidth": 1.5, "symbolOpacity": 0.6, "labelFontSize": 18, "labelFont": "Liberation Sans", "labelColor": "black",
          "labelOffset": 1, "rowPadding": -8, "padding": 0, "labelLimit": 0}}
    }
  },
  {
    "mark": {"type": "line", "opacity": 0},
    "encoding": {
      "x": {"field": "t", "type": "quantitative", "scale": {"domain": [0, 50], "nice": false, "zero": false},
        "axis": {"orient": "top", "title": null, "labels": false, "values": [0,5,10,15,20,25,30,35,40,45,50],
          "tickSize": {"condition": {"test": "datum.value % 10 !== 0", "value": -3}, "value": -5}, "domain": true}},
      "y": {"field": "d", "type": "quantitative", "scale": {"domain": [-0.04, 4.5], "nice": false, "zero": false},
        "axis": {"orient": "right", "title": null, "labels": false, "values": [0,0.5,1,1.5,2,2.5,3,3.5,4],
          "tickSize": {"condition": {"test": "datum.value % 1 !== 0", "value": -3}, "value": -5}, "domain": true}}
    }
  }
],
"resolve": {"scale": {"x": "independent", "y": "independent"}, "axis": {"x": "independent", "y": "independent"}}
}
